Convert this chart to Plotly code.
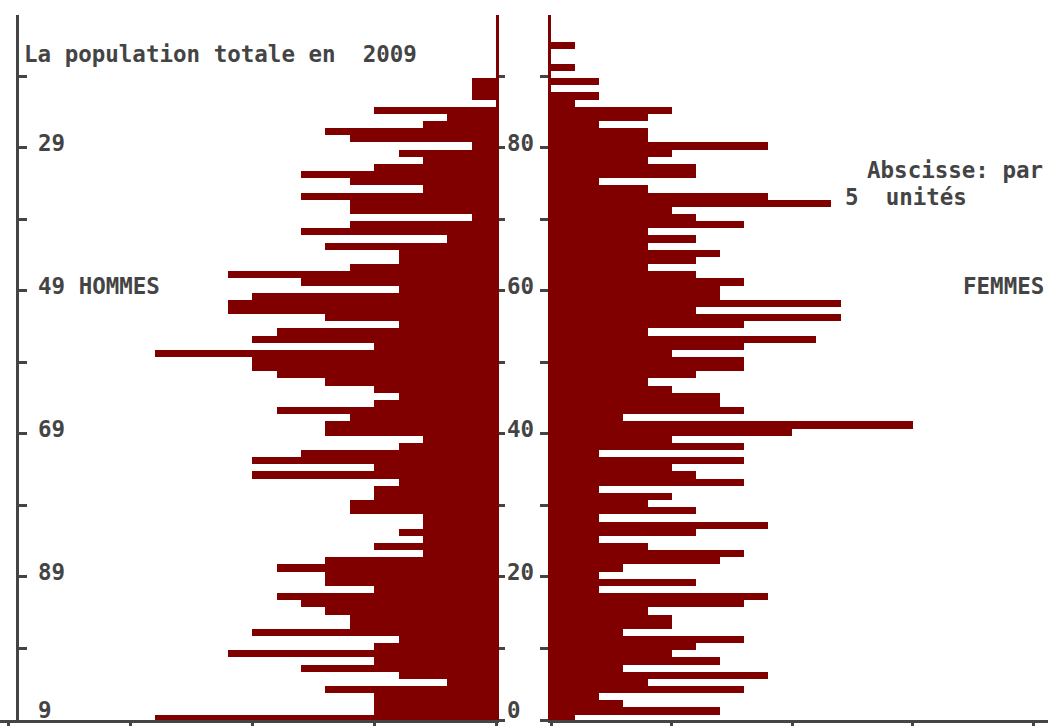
import plotly.graph_objects as go

# Ages (one bar per year of age)
ages = list(range(99))

# Population per age, men (left) and women (right)
hommes = [
    14, 5, 5, 5, 7, 2, 4, 8, 5, 11,
    5, 4, 10, 6, 6, 7, 8, 9, 5, 7,
    7, 9, 7, 3, 5, 3, 4, 3, 3, 6,
    6, 5, 5, 4, 10, 5, 10, 8, 4, 3,
    7, 7, 6, 9, 5, 4, 5, 7, 9, 10,
    10, 14, 5, 10, 9, 4, 7, 11, 11, 10,
    4, 8, 11, 6, 4, 4, 7, 2, 8, 6,
    1, 6, 6, 8, 3, 6, 8, 5, 3, 4,
    1, 6, 7, 3, 2, 5, 0, 1, 1, 1,
    0, 0, 0, 0, 0, 0, 0, 0, 0,
]
femmes = [
    1, 7, 3, 2, 8, 4, 9, 3, 7, 5,
    6, 8, 3, 5, 5, 4, 8, 9, 2, 6,
    2, 3, 7, 8, 4, 2, 6, 9, 2, 6,
    4, 5, 2, 8, 6, 5, 8, 2, 8, 5,
    10, 15, 3, 8, 7, 7, 5, 4, 6, 8,
    8, 5, 8, 11, 4, 8, 12, 6, 12, 7,
    7, 8, 6, 4, 6, 7, 4, 6, 4, 8,
    6, 5, 11.6, 9, 4, 2, 6, 6, 4, 5,
    9, 4, 4, 2, 4, 5, 1, 2, 0, 2,
    0, 1, 0, 0, 1, 0, 0, 0, 0,
]

# Axis ticks and their labels
age_ticks = list(range(0, 100, 10))
age_text = ["0", "", "20", "", "40", "", "60", "", "80", ""]
birth_text = ["9", "", "89", "", "69", "", "49 HOMMES", "", "29", ""]
x_ticks = [0, 5, 10, 15, 20]

W, H = 1048, 726
BAR = "#800000"
INK = "#444444"
FONT = dict(family="DejaVu Sans Mono", size=22.5, color=INK, weight="bold")

ydom = [6 / H, 711 / H]
age_range = [0, 98.57]

fig = go.Figure()
fig.add_trace(go.Bar(x=hommes, y=ages, orientation="h", width=1, offset=-0.25,
                     marker=dict(color=BAR, line=dict(width=0)),
                     xaxis="x", yaxis="y", hoverinfo="skip"))
fig.add_trace(go.Bar(x=femmes, y=ages, orientation="h", width=1, offset=-0.25,
                     marker=dict(color=BAR, line=dict(width=0)),
                     xaxis="x2", yaxis="y2", hoverinfo="skip"))
# carrier for the birth-year axis on the far left
fig.add_trace(go.Scatter(x=[None], y=[None], xaxis="x", yaxis="y3",
                         showlegend=False, hoverinfo="skip"))

common_x = dict(showline=True, linecolor=INK, linewidth=3, ticks="outside",
                ticklen=6, tickwidth=3, tickcolor=INK, tickvals=x_ticks,
                showticklabels=False, showgrid=False, zeroline=False,
                fixedrange=True)

fig.update_layout(
    width=W, height=H,
    margin=dict(l=0, r=0, t=0, b=0),
    paper_bgcolor="white", plot_bgcolor="white",
    showlegend=False, bargap=0,
    font=FONT,
    xaxis=dict(domain=[0, 496 / W], range=[20.36, 0], anchor="y", **common_x),
    xaxis2=dict(domain=[551 / W, 1], range=[0, 20.6], anchor="y2", **common_x),
    yaxis=dict(domain=ydom, range=age_range, anchor="x", side="right",
               showline=True, linecolor=BAR, linewidth=3,
               ticks="outside", ticklen=6, tickwidth=3, tickcolor=INK,
               tickvals=age_ticks, showticklabels=False,
               showgrid=False, zeroline=False),
    yaxis2=dict(domain=ydom, range=age_range, anchor="x2", side="left",
                showline=True, linecolor=BAR, linewidth=3,
                ticks="outside", ticklen=8, tickwidth=3, tickcolor=INK,
                tickvals=age_ticks, showticklabels=False,
                showgrid=False, zeroline=False),
    yaxis3=dict(range=age_range, overlaying="y", anchor="free",
                position=17 / W, side="left",
                showline=True, linecolor=INK, linewidth=3,
                ticks="inside", ticklen=8, tickwidth=3, tickcolor=INK,
                tickvals=age_ticks, showticklabels=False,
                showgrid=False, zeroline=False),
)

def note(text, px, py, anchor="left"):
    fig.add_annotation(text=text, xref="paper", yref="paper",
                       x=px / W, y=1 - py / H, xanchor=anchor, yanchor="middle",
                       showarrow=False, font=FONT)

# age labels between the two panels, birth-year labels inside the left panel
for age, a_txt, b_txt in zip(age_ticks, age_text, birth_text):
    lift = 10 if age == 0 else 5
    if a_txt:
        fig.add_annotation(text=a_txt, xref="paper", yref="y", x=505 / W, y=age,
                           xanchor="left", yanchor="middle", yshift=lift,
                           showarrow=False, font=FONT)
    if b_txt:
        fig.add_annotation(text=b_txt, xref="paper", yref="y", x=36 / W, y=age,
                           xanchor="left", yanchor="middle", yshift=lift,
                           showarrow=False, font=FONT)

note("La population totale en\u00a0\u00a02009", 22, 54)
note("Abscisse: par", 1045, 170, anchor="right")
note("5\u00a0\u00a0unités", 843, 197)
note("FEMMES", 1046, 286, anchor="right")

fig.write_html("out.html")
